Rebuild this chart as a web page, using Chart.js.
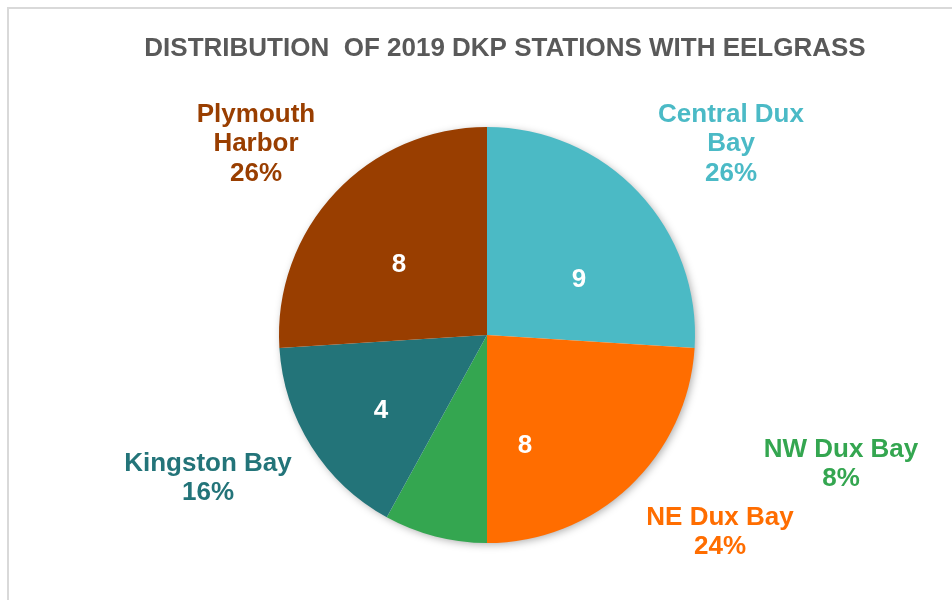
<!DOCTYPE html>
<html>
<head>
<meta charset="utf-8">
<title>Distribution of 2019 DKP Stations with Eelgrass</title>
<script src="https://cdn.jsdelivr.net/npm/chart.js@4/dist/chart.umd.min.js"></script>
<style>
  html, body { margin: 0; padding: 0; background: #ffffff; }
  #wrap { width: 952px; height: 600px; position: relative; }
</style>
</head>
<body>
<div id="wrap"><canvas id="pie" width="952" height="600"></canvas></div>
<script>
// Station areas, in drawing order (clockwise from 12 o'clock)
const areas = ['Central Dux Bay', 'NE Dux Bay', 'NW Dux Bay', 'Kingston Bay', 'Plymouth Harbor'];
// Share of stations with eelgrass, percent
const shares = [26, 24, 8, 16, 26];
// Number of stations per area (NW Dux Bay carries no count label)
const stationCounts = [9, 8, null, 4, 8];

const chartTitle = 'DISTRIBUTION  OF 2019 DKP STATIONS WITH EELGRASS';

const sliceColors = ['#4BBAC5', '#FF6D00', '#34A650', '#237479', '#993E00'];
const labelColors = ['#4BBAC6', '#FF6D00', '#34A650', '#237479', '#993E00'];

// Label lines for each area's outer callout
const calloutLines = [
  ['Central Dux', 'Bay'],
  ['NE Dux Bay'],
  ['NW Dux Bay'],
  ['Kingston Bay'],
  ['Plymouth', 'Harbor']
];
// Callout block centres, relative to the pie centre, in units of a 208px radius
const calloutOffsets = [[244, -193], [233, 195], [354, 127], [-279, 141], [-231, -193]];
// Count label centres inside the slices
const countOffsets = [[92, -57], [38, 109], [0, 0], [-106, 74], [-88, -72]];

const FONT = '"Liberation Sans", Arial, Helvetica, sans-serif';

const framePlugin = {
  id: 'frame',
  beforeDraw(chart) {
    const ctx = chart.ctx;
    ctx.save();
    ctx.fillStyle = '#ffffff';
    ctx.fillRect(0, 0, chart.width, chart.height);
    ctx.strokeStyle = '#d9d9d9';
    ctx.lineWidth = 2;
    ctx.beginPath();
    ctx.moveTo(8, chart.height);
    ctx.lineTo(8, 8);
    ctx.lineTo(chart.width, 8);
    ctx.stroke();
    ctx.fillStyle = '#595959';
    ctx.font = 'bold 26px ' + FONT;
    ctx.textAlign = 'center';
    ctx.textBaseline = 'alphabetic';
    ctx.fillText(chartTitle, 505, 56);
    ctx.restore();
  }
};

const shadowPlugin = {
  id: 'pieShadow',
  beforeDatasetsDraw(chart) {
    const arc = chart.getDatasetMeta(0).data[0];
    if (!arc) return;
    const { x, y, outerRadius } = arc.getProps(['x', 'y', 'outerRadius'], true);
    const ctx = chart.ctx;
    ctx.save();
    ctx.shadowColor = 'rgba(0,0,0,0.35)';
    ctx.shadowBlur = 9;
    ctx.shadowOffsetX = 2;
    ctx.shadowOffsetY = 2;
    ctx.fillStyle = '#ffffff';
    ctx.beginPath();
    ctx.arc(x, y, outerRadius - 1, 0, Math.PI * 2);
    ctx.fill();
    ctx.restore();
  }
};

const labelPlugin = {
  id: 'sliceLabels',
  afterDatasetsDraw(chart) {
    const meta = chart.getDatasetMeta(0);
    const ctx = chart.ctx;
    const values = chart.data.datasets[0].data;
    ctx.save();
    ctx.textAlign = 'center';
    ctx.textBaseline = 'alphabetic';
    ctx.font = 'bold 26px ' + FONT;
    const lineGap = 29.5;
    const capHalf = 9.3;
    meta.data.forEach((arc, i) => {
      const { x, y, outerRadius } = arc.getProps(['x', 'y', 'outerRadius'], true);
      const k = outerRadius / 208;
      // outer callout: name lines plus the share
      const lines = calloutLines[i].concat([values[i] + '%']);
      const cx = x + calloutOffsets[i][0] * k;
      const cy = y + calloutOffsets[i][1] * k;
      const first = cy - (lines.length - 1) * lineGap / 2 + capHalf;
      ctx.fillStyle = labelColors[i];
      lines.forEach((t, j) => ctx.fillText(t, cx, first + j * lineGap));
      // count inside the slice
      if (stationCounts[i] != null) {
        ctx.fillStyle = '#ffffff';
        ctx.fillText(String(stationCounts[i]),
          x + countOffsets[i][0] * k, y + countOffsets[i][1] * k + capHalf);
      }
    });
    ctx.restore();
  }
};

new Chart(document.getElementById('pie'), {
  type: 'pie',
  data: {
    labels: areas,
    datasets: [{
      data: shares,
      backgroundColor: sliceColors,
      borderWidth: 0,
      hoverOffset: 0
    }]
  },
  options: {
    responsive: false,
    animation: false,
    events: [],
    layout: { padding: { left: 279, right: 257, top: 127, bottom: 57 } },
    plugins: {
      legend: { display: false },
      title: { display: false },
      tooltip: { enabled: false }
    }
  },
  plugins: [framePlugin, shadowPlugin, labelPlugin]
});
</script>
</body>
</html>
